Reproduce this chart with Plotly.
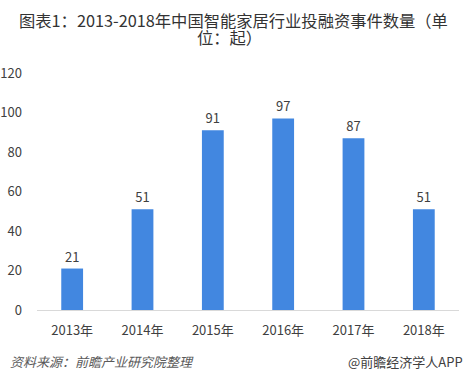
import plotly.graph_objects as go

years = ["2013年", "2014年", "2015年", "2016年", "2017年", "2018年"]
counts = [21, 51, 91, 97, 87, 51]
y_ticks = [0, 20, 40, 60, 80, 100, 120]

FONT = "Microsoft YaHei, Noto Sans CJK SC, sans-serif"

fig = go.Figure(go.Bar(
    x=years, y=counts,
    marker=dict(color="#4287E0", line=dict(width=0)),
    text=[str(v) for v in counts], textposition="outside",
    textfont=dict(size=13, color="#404040", family=FONT),
    cliponaxis=False, hoverinfo="skip",
))

fig.update_layout(
    width=467, height=379,
    margin=dict(l=37, r=8, t=73, b=69, autoexpand=False),
    paper_bgcolor="white", plot_bgcolor="white",
    bargap=0.69,
    showlegend=False,
    hovermode=False,
    font=dict(family=FONT, color="#404040", size=13),
    xaxis=dict(
        showline=True, linecolor="#D9D9D9", linewidth=1,
        ticks="", tickfont=dict(size=13, color="#404040"),
        showgrid=False, ticklabelstandoff=8, automargin=False,
    ),
    yaxis=dict(
        range=[0, 120], tickvals=y_ticks, showgrid=False, zeroline=False,
        showline=False, ticks="", tickfont=dict(size=13, color="#404040"),
        ticklabelstandoff=14, automargin=False,
    ),
)

title_font = dict(size=16.3, color="#333333", family=FONT)
fig.add_annotation(text="图表1：2013-2018年中国智能家居行业投融资事件数量（单",
                   xref="paper", yref="paper", x=0.4656, xanchor="center",
                   y=1, yshift=53, yanchor="middle", showarrow=False, font=title_font)
fig.add_annotation(text="位：起）",
                   xref="paper", yref="paper", x=0.455, xanchor="center",
                   y=1, yshift=36, yanchor="middle", showarrow=False, font=title_font)
fig.add_annotation(text="<i>资料来源：前瞻产业研究院整理</i>", xref="paper", yref="paper",
                   x=0, xanchor="left", xshift=-29, y=0, yshift=-51, yanchor="middle",
                   showarrow=False, font=dict(size=13, color="#595959", family=FONT))
fig.add_annotation(text="@前瞻经济学人APP", xref="paper", yref="paper",
                   x=1, xanchor="right", xshift=6, y=0, yshift=-51, yanchor="middle",
                   showarrow=False, font=dict(size=13, color="#404040", family=FONT))

# remove the browser's default 8px body margin so the figure sits at (0, 0)
fig.write_html("out.html", config={"displayModeBar": False, "staticPlot": True},
               post_script="document.body.style.margin='0';")
